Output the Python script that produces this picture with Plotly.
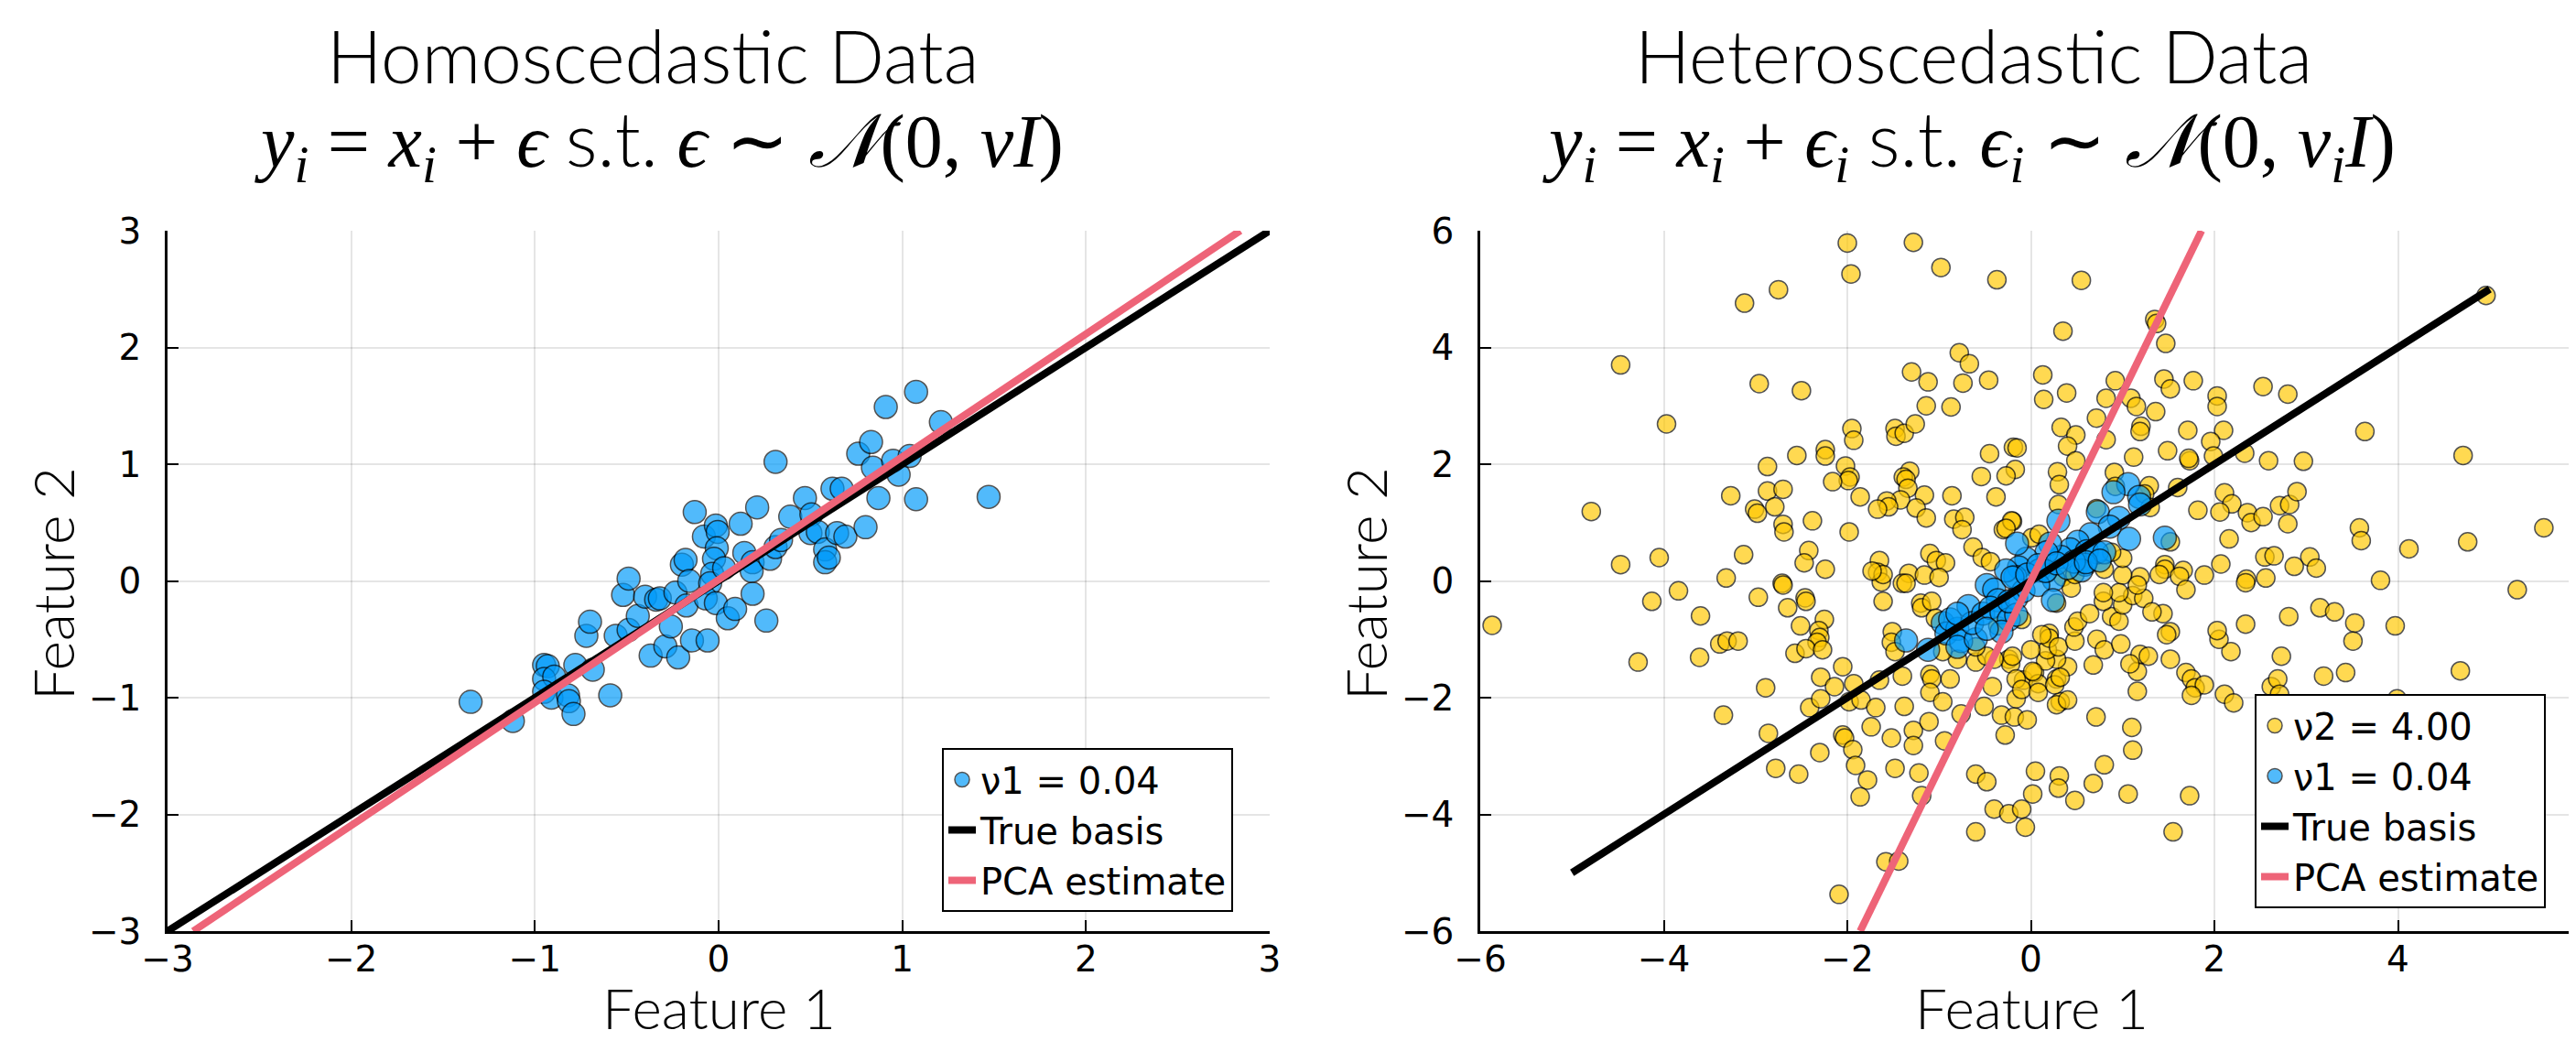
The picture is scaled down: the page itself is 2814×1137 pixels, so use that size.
import plotly.graph_objects as go

# ---------------- data ----------------
# Left panel: homoscedastic sample (nu1 = 0.04)
homo_x = [-1.35, -1.12, -0.95, -0.93, -0.95, -0.895, -0.95, -0.91, -0.82, -0.815, -0.79, -0.78,
          -0.685, -0.59, -0.72, -0.70, -0.56, -0.49, -0.52, -0.49, -0.44, -0.40, -0.34, -0.32,
          -0.37, -0.29, -0.26, -0.22, -0.145, -0.06, -0.235, -0.175, -0.20, -0.18, -0.16, -0.13,
          -0.08, -0.015, -0.005, 0.12, -0.01, -0.025, -0.035, -0.046, -0.07, -0.015, 0.03, 0.05,
          0.09, 0.14, 0.185, 0.18, 0.185, 0.21, 0.26, 0.28, 0.31, 0.31, 0.34, 0.39, 0.47, 0.505,
          0.50, 0.54, 0.58, 0.58, 0.60, 0.62, 0.67, 0.645, 0.69, 0.80, 0.76, 0.83, 0.84, 0.87,
          0.91, 0.95, 0.98, 1.04, 1.075, 1.075, 1.21, 1.47]
homo_y = [-1.036, -1.20, -0.72, -0.73, -0.84, -0.82, -0.95, -1.00, -0.98, -1.03, -1.14, -0.72,
          -0.76, -0.98, -0.47, -0.35, -0.47, -0.42, -0.12, 0.02, -0.30, -0.135, -0.16, -0.15,
          -0.64, -0.56, -0.39, -0.655, -0.51, -0.51, -0.10, -0.21, 0.14, 0.18, 0.00, 0.59,
          0.38, 0.475, 0.42, 0.49, 0.28, 0.19, 0.06, -0.02, -0.15, -0.19, 0.11, -0.32,
          -0.24, 0.24, 0.16, 0.085, -0.11, 0.63, -0.34, 0.19, 1.02, 0.29, 0.35, 0.55, 0.71, 0.57,
          0.41, 0.42, 0.27, 0.16, 0.20, 0.79, 0.79, 0.41, 0.38, 0.46, 1.09, 1.19, 0.97, 0.71,
          1.49, 1.03, 0.91, 1.07, 1.62, 0.70, 1.36, 0.72]

# Right panel: heteroscedastic sample, high-noise group (nu2 = 4.00)
het2_x = [-2.00, -1.28, -0.98, -1.96, -0.37, -2.75, -3.12, -4.47, -0.78, -0.67, -1.30, -1.12,
          -0.74, -0.46, -2.96, -2.50, -1.14, -0.87, -3.97, -1.95, -1.93, -1.48, -1.47, -1.38,
          -1.26, -2.24, -2.24, -2.55, -0.45, -0.19, -2.87, -2.02, -1.97, -1.99, -2.16, -1.32,
          -1.39, -1.36, -0.54, -3.27, -2.87, -2.70, -1.86, -1.34, -1.16, -0.86, -0.38, -1.42,
          -1.57, -1.55, -1.67, -1.25, -3.01, -2.98, -2.79, -4.79, -2.38, -1.14, -0.84, -0.72,
          -2.70, -2.69, -1.98, -0.75, -0.30, -0.20, -0.63, -0.53, -0.44, -3.13, -4.05, -4.47,
          -2.42, -2.47, -2.24, -1.65, -1.67, -1.10, -1.03, -0.93, -1.33, -1.16, -1.00, -3.32,
          -2.71, -1.63, -1.40,
          0.55, 0.35, 1.35, 1.37, 1.47, 0.13, 0.14, 0.39, 0.92, 1.45, 1.52, 1.77, 2.03, 2.03,
          2.53, 2.80, 0.82, 1.09, 1.15, 1.36, 0.715, 0.33, 0.49, 0.40, 0.82, 1.20, 1.19, 1.71,
          2.10, 1.96, -0.15, -0.17, -0.27, 0.49, 1.12, 1.49, 1.73, 1.72, 1.99, 2.33, 2.59, 2.97,
          3.64, 4.71, 0.29, 0.31, 0.91, 0.92, 1.29, 1.24, 1.60, 0.30, -0.21, -0.27, 0.715, 1.30,
          2.11, 2.19, 1.82, 2.06, 2.36, 2.40, 2.53, 2.71, 2.82, 2.90, 2.80, 3.58, 3.60, 4.12,
          4.76, 5.59, 2.16, 1.52, 2.55, 2.65, 3.04, 2.87, 3.11, 2.07, 1.46, 1.46, 1.66, 1.89,
          2.35, 2.56, 3.81, 1.62, 1.19, 1.00, 1.00, 0.88, 0.80, 0.35, 0.01, 0.09, 5.30, 4.96,
          -5.87, -4.13, -3.84, -3.60, -4.28, -3.61, -3.39, -3.31, -3.19, -2.97, -2.70, -2.65,
          -2.46, -2.45, -2.25, -2.51, -2.31, -2.30, -2.33, -2.57, -2.45, -2.27, -2.05, -2.29,
          -2.89, -2.14, -2.41, -2.29, -1.98, -1.85, -1.93, -3.35, -2.86, -2.30, -2.05, -2.03,
          -1.94, -1.91, -1.78, -2.78, -2.53, -1.86, -2.09, -1.58, -1.44, -1.69, -1.74, -1.52,
          -1.28, -1.28, -1.11, -1.48, -1.22, -1.19, -0.94, -1.38, -1.40, -1.65, -1.61, -1.36,
          -1.20, -1.19, -1.08, -1.51, -1.52, -1.48, -1.10, -1.08, -0.88, -1.10, -0.96, -0.76,
          -0.60, -0.51, -0.32, -0.18, -0.04, -0.28, -0.42, -0.16, -0.08, 0.04, 0.08, 0.28,
          0.32, 0.28, 0.40, 0.40, 0.28, 0.16, 0.18, 0.00, 0.02, -0.24, -0.22, -0.40, 0.20,
          0.20, 0.30, 0.48, 0.47, 0.51, 0.64, 0.72, 0.80, 0.88, 0.96, 0.98, 0.79, 1.00, 1.11,
          1.23, 0.68, 0.71, 1.10, 1.11, 0.80, 0.68, 0.31, 0.30, 0.05, 0.02, 0.48, 1.06, -0.60,
          -0.48, -0.40, -0.24, -0.10, -0.06, -0.60, 1.55, 1.73, 1.16, 1.16, 1.19, 1.28, 1.52,
          1.69, 1.75, 1.79, 1.89, 1.75, 2.11, 2.21, 2.62, 2.69, 2.71, 3.19, 3.43, 3.99, 4.68,
          2.73, 2.18, 2.05, 2.03, 1.52, 1.48, 1.44, 2.34, 2.81, 3.15, 3.31, 3.53, 3.51, 3.97,
          2.34, 1.69, 1.40, 1.16, 0.96, 0.79, 0.44, 0.48, 0.18, 1.32, 1.08, -0.36, -0.20,
          -0.48, -0.60, -0.80, -0.96, -1.04, -1.61, -1.73, 0.28, 0.12, -0.10, -0.16, -0.10,
          0.08, 0.26, 0.32]
het2_y = [5.79, 5.80, 5.37, 5.26, 5.16, 4.99, 4.76, 3.70, 3.91, 3.72, 3.58, 3.41,
          3.39, 3.44, 3.38, 3.26, 3.00, 2.98, 2.69, 2.61, 2.41, 2.61, 2.48, 2.53,
          2.69, 2.25, 2.14, 2.15, 2.18, 2.29, 1.96, 1.97, 1.78, 1.72, 1.70, 1.88,
          1.78, 1.74, 1.79, 1.46, 1.54, 1.57, 1.44, 1.59, 1.47, 1.46, 1.44, 1.39,
          1.37, 1.27, 1.23, 1.25, 1.23, 1.16, 1.27, 1.19, 1.03, 1.08, 1.06, 1.09,
          0.97, 0.84, 0.84, 0.88, 0.88, 1.02, 0.58, 0.40, 0.33, 0.45, 0.40, 0.28,
          0.52, 0.31, 0.20, 0.35, 0.15, 0.47, 0.35, 0.31, 0.13, 0.10, 0.06, 0.05,
          -0.04, -0.02, -0.04,
          5.15, 4.28, 4.48, 4.41, 4.07, 3.53, 3.11, 3.22, 3.43, 3.46, 3.29, 3.43, 3.17, 2.99,
          3.33, 3.20, 3.13, 3.13, 2.99, 2.90, 2.79, 2.63, 2.50, 2.31, 2.42, 2.65, 2.56, 2.58,
          2.58, 2.39, 2.28, 1.91, 1.80, 2.06, 2.12, 2.23, 2.06, 2.10, 2.14, 2.19, 2.06, 2.05,
          2.56, 2.15, 1.87, 1.65, 1.86, 1.62, 1.63, 1.49, 1.60, 1.31, 1.03, 0.90, 1.24, 1.26,
          1.51, 1.32, 1.21, 1.18, 1.17, 1.00, 1.10, 1.29, 1.31, 1.53, 0.98, 0.91, 0.69, 0.55,
          0.67, 0.91, 0.72, 0.67, 0.41, 0.43, 0.41, 0.25, 0.22, 0.29, 0.28, 0.20, 0.18, 0.10,
          0.03, 0.05, 0.01, 0.08, 0.07, 0.10, 0.39, 0.49, 0.20, 0.07, 0.74, 0.80, -0.15, 4.89,
          -0.76, -0.35, -0.17, -0.60, -1.39, -1.31, -1.08, -1.03, -1.03, -0.28, -0.07, -0.46,
          -0.29, -0.35, -0.66, -0.77, -0.85, -0.97, -1.05, -1.24, -1.16, -1.18, -1.47, -1.65,
          -1.83, -1.81, -2.17, -2.02, -2.07, -2.04, -1.76, -2.30, -2.61, -2.94, -2.64, -2.69,
          -2.89, -3.16, -3.41, -3.21, -3.31, -3.70, -5.37, -4.81, -4.80, -2.17, -2.50, -2.69,
          -2.56, -2.82, -2.41, -3.21, -3.29, -3.68, -2.74, -2.15, -1.63, -1.70, 0.11, -0.04,
          -0.38, -0.46, -0.35, -0.87, -1.05, -1.21, -1.60, -1.68, -1.68, -1.91, -2.07, -2.28,
          -1.39, -2.15, -2.30, -2.33, -2.38, -2.64, -1.81, -2.02, -1.70, -1.57, -1.76, -1.68,
          -2.07, -2.12, -2.04, -1.47, -1.34, -1.37, -1.18, -1.18, -1.55, -1.34, -1.42, -1.34, -0.90,
          -0.98, -1.13, -1.03, -0.79, -0.69, -0.56, -1.00, -1.18, -0.61, -0.69, -1.08, -0.35, -0.41, -0.25,
          -0.30, -1.44, -2.33, -2.51, -2.90, -3.15, -3.47, -3.34, -3.55, -3.26, -3.65, -3.76, -3.65, -3.31,
          -3.44, -3.91, -3.99, -3.91, -4.22, -4.30, -4.30, -3.68, -1.89, -1.55, -1.26, -1.29, -1.34,
          -1.57, -1.68, -1.83, -1.78, -1.96, -1.94, -2.09, -1.81, -1.68, -1.94, -1.63, -1.57, -2.02, -1.54,
          -1.29, -1.21, -1.00, -0.85, -0.87, -0.92, -0.56, -0.74, -0.61, -0.46, -0.53, -0.72, -1.03, -0.77,
          -0.03, -0.15, 0.11, -0.07, -0.20, -0.20, -0.12, 0.11, 0.14, -0.53, -1.42, -0.77, -1.29,
          -1.29, -1.13, -1.34, -1.21, -0.64, -0.35, 0.17, -0.38, -0.92, -0.66, -1.68, -1.86,
          -1.91, -1.78, -1.65]

# Right panel: low-noise group (nu1 = 0.04)
het1_x = [1.06, 0.90, 1.18, 1.19, 0.73, 0.96, 0.30, 1.07, 1.46, 0.86, 0.65, 0.51, 0.43, 0.61,
          0.72, 0.80, 0.59, 0.55, 0.33, 0.21, 0.17, -0.05, -0.15, -0.13, -0.17, 0.09, 0.25,
          -0.27, 0.47,
          -1.36, -1.12, -0.96, -0.92, -0.80, -0.76, -0.80, -0.88, -0.68, -0.60, -0.64, -0.52,
          -0.48, -0.40, -0.36, -0.44, -0.32, -0.24, -0.16, -0.08, -0.20, -0.04, 0.08, 0.08,
          0.24, 0.16, 0.28, 0.40, 0.60, 0.75, -0.32, -0.16, -0.24, -0.48, -0.80]
het1_y = [1.66, 1.52, 1.44, 1.31, 1.18, 1.08, 1.03, 0.72, 0.74, 0.93, 0.80, 0.67, 0.54, 0.51,
          0.49, 0.49, 0.28, 0.18, 0.41, 0.64, 0.49, 0.38, 0.64, 0.23, 0.07, 0.18, 0.02,
          0.18, 0.33,
          -1.02, -1.18, -0.72, -0.90, -0.82, -1.03, -1.13, -0.66, -0.43, -1.00, -0.72, -0.56,
          -0.07, -0.15, -0.33, -0.46, -0.54, -0.66, -0.30, -0.17, 0.06, 0.11, -0.07, 0.27,
          -0.33, 0.17, 0.30, 0.22, 0.32, 0.35, -0.87, -0.58, -0.35, -0.82, -0.56]

# Basis lines (endpoints)
left_true_x = [-3.0, 3.0]
left_true_y = [-3.0, 3.0]
left_pca_x = [-2.86, 2.84]
left_pca_y = [-3.0, 3.0]
right_true_x = [-5.0, 5.0]
right_true_y = [-5.0, 5.0]
right_pca_x = [-1.86, 1.86]
right_pca_y = [-6.0, 6.0]

left_ticks = [-3, -2, -1, 0, 1, 2, 3]
right_ticks = [-6, -4, -2, 0, 2, 4, 6]

labels = {"nu1": "ν1 = 0.04", "nu2": "ν2 = 4.00", "true": "True basis", "pca": "PCA estimate"}

# ---------------- style ----------------
W, H = 2814, 1137
BLUE = "rgb(0,154,250)"
YELLOW = "rgb(255,200,0)"
PINK = "rgb(238,100,120)"
TICKFONT = dict(family="DejaVu Sans", size=39, color="black")
LEGFONT = dict(family="DejaVu Sans", size=40, color="black")
TITLEFONT = dict(family="Lato", size=80, color="black", weight=300)
LABELFONT = dict(family="Lato", size=62, color="black", weight=300)
MATHFONT = dict(family="Liberation Serif", size=82, color="black")

def px_x(p):
    return p / W

def px_y(p):
    return 1 - p / H

fig = go.Figure()

# left panel
fig.add_trace(go.Scatter(x=homo_x, y=homo_y, mode="markers", name=labels["nu1"],
                         marker=dict(size=25, color=BLUE, opacity=0.68,
                                     line=dict(color="black", width=1.5)),
                         xaxis="x", yaxis="y", legend="legend"))
fig.add_trace(go.Scatter(x=left_true_x, y=left_true_y, mode="lines", name=labels["true"],
                         line=dict(color="black", width=8), xaxis="x", yaxis="y", legend="legend"))
fig.add_trace(go.Scatter(x=left_pca_x, y=left_pca_y, mode="lines", name=labels["pca"],
                         line=dict(color=PINK, width=8), xaxis="x", yaxis="y", legend="legend"))

# right panel
fig.add_trace(go.Scatter(x=het2_x, y=het2_y, mode="markers", name=labels["nu2"],
                         marker=dict(size=20, color=YELLOW, opacity=0.68,
                                     line=dict(color="black", width=1.5)),
                         xaxis="x2", yaxis="y2", legend="legend2"))
fig.add_trace(go.Scatter(x=het1_x, y=het1_y, mode="markers", name=labels["nu1"],
                         marker=dict(size=25, color=BLUE, opacity=0.68,
                                     line=dict(color="black", width=1.5)),
                         xaxis="x2", yaxis="y2", legend="legend2"))
fig.add_trace(go.Scatter(x=right_true_x, y=right_true_y, mode="lines", name=labels["true"],
                         line=dict(color="black", width=8), xaxis="x2", yaxis="y2", legend="legend2"))
fig.add_trace(go.Scatter(x=right_pca_x, y=right_pca_y, mode="lines", name=labels["pca"],
                         line=dict(color=PINK, width=8), xaxis="x2", yaxis="y2", legend="legend2"))

axis_common = dict(showgrid=True, gridcolor="rgba(0,0,0,0.10)", gridwidth=1.5,
                   zeroline=False, showline=True, linecolor="black", linewidth=2.5,
                   mirror=False, ticks="inside", ticklen=12, tickwidth=2, tickcolor="black",
                   tickfont=TICKFONT, automargin=False, ticklabeloverflow="allow")
xaxis_common = dict(axis_common, ticklabelstandoff=-6)
yaxis_common = dict(axis_common, ticklabelstandoff=18)

y_dom = [px_y(1009), px_y(244)]
fig.update_layout(
    template="none",
    width=W, height=H, autosize=False,
    margin=dict(l=0, r=0, t=0, b=0, pad=0),
    paper_bgcolor="white", plot_bgcolor="white",
    xaxis=dict(domain=[px_x(175), px_x(1379)], range=[-3, 3], tickvals=left_ticks,
               anchor="y", **xaxis_common),
    yaxis=dict(domain=y_dom, range=[-3, 3], tickvals=left_ticks, anchor="x", **yaxis_common),
    xaxis2=dict(domain=[px_x(1609), px_x(2812)], range=[-6, 6], tickvals=right_ticks,
                anchor="y2", **xaxis_common),
    yaxis2=dict(domain=y_dom, range=[-6, 6], tickvals=right_ticks, anchor="x2", **yaxis_common),
    legend=dict(x=px_x(1339), xanchor="right", y=px_y(988), yanchor="bottom",
                bgcolor="white", bordercolor="black", borderwidth=2, font=LEGFONT,
                tracegroupgap=0),
    legend2=dict(x=px_x(2773), xanchor="right", y=px_y(984), yanchor="bottom",
                 bgcolor="white", bordercolor="black", borderwidth=2, font=LEGFONT,
                 tracegroupgap=0),
    showlegend=True,
)

ann = []
# titles
ann.append(dict(text="Homoscedastic Data", x=px_x(705), y=px_y(52), xref="paper", yref="paper",
                xanchor="center", yanchor="middle", showarrow=False, font=TITLEFONT))
ann.append(dict(text="Heteroscedastic Data", x=px_x(2148), y=px_y(52), xref="paper", yref="paper",
                xanchor="center", yanchor="middle", showarrow=False, font=TITLEFONT))
st = '<span style="font-family:Lato;font-weight:300;font-style:normal">s.t.</span>'
math_left = ("<i>y<sub>i</sub></i> = <i>x<sub>i</sub></i> + <i>ϵ</i> " + st +
             " <i>ϵ</i> ∼ <i>𝒩</i>(0, <i>νI</i>)")
math_right = ("<i>y<sub>i</sub></i> = <i>x<sub>i</sub></i> + <i>ϵ<sub>i</sub></i> " + st +
              " <i>ϵ<sub>i</sub></i> ∼ <i>𝒩</i>(0, <i>ν<sub>i</sub>I</i>)")
ann.append(dict(text=math_left, x=px_x(712), y=px_y(148), xref="paper", yref="paper",
                xanchor="center", yanchor="middle", showarrow=False, font=MATHFONT))
ann.append(dict(text=math_right, x=px_x(2143), y=px_y(148), xref="paper", yref="paper",
                xanchor="center", yanchor="middle", showarrow=False, font=MATHFONT))
# axis titles
ann.append(dict(text="Feature 1", x=px_x(777), y=px_y(1092), xref="paper", yref="paper",
                xanchor="center", yanchor="middle", showarrow=False, font=LABELFONT))
ann.append(dict(text="Feature 1", x=px_x(2211), y=px_y(1092), xref="paper", yref="paper",
                xanchor="center", yanchor="middle", showarrow=False, font=LABELFONT))
ann.append(dict(text="Feature 2", x=px_x(49), y=px_y(630), xref="paper", yref="paper",
                xanchor="center", yanchor="middle", showarrow=False, textangle=-90, font=LABELFONT))
ann.append(dict(text="Feature 2", x=px_x(1483), y=px_y(630), xref="paper", yref="paper",
                xanchor="center", yanchor="middle", showarrow=False, textangle=-90, font=LABELFONT))
fig.update_layout(annotations=ann)

fig.write_html("out.html")
